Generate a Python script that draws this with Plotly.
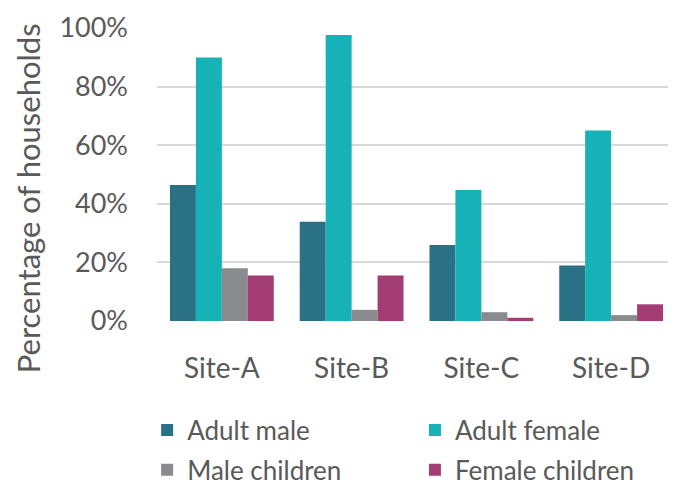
import plotly.graph_objects as go

sites = ["Site-A", "Site-B", "Site-C", "Site-D"]
adult_male = [0.464, 0.339, 0.259, 0.189]
adult_female = [0.899, 0.976, 0.447, 0.650]
male_children = [0.180, 0.038, 0.030, 0.020]
female_children = [0.155, 0.155, 0.011, 0.057]

# name, values, colour, legend id, legend x / y (paper)
series = [
    ("Adult male", adult_male, "#2B7186", "legend", -0.019, -0.372),
    ("Adult female", adult_female, "#16B2B8", "legend2", 0.497, -0.372),
    ("Male children", male_children, "#898B8E", "legend3", -0.019, -0.508),
    ("Female children", female_children, "#A33D73", "legend4", 0.497, -0.508),
]

font_family = "Lato, 'Open Sans', sans-serif"
text_color = "#595959"

fig = go.Figure()
legends = {}
for name, vals, color, leg, lx, ly in series:
    fig.add_trace(go.Bar(
        x=sites, y=vals, name=name, marker_color=color,
        marker_line_width=0, legend=leg,
    ))
    legends[leg] = dict(
        orientation="h",
        xanchor="left",
        yanchor="middle",
        x=lx,
        y=ly,
        font=dict(size=26, color=text_color, family=font_family),
        bgcolor="rgba(0,0,0,0)",
        itemclick=False,
    )

# page body adds an 8px offset, so the figure is 8px smaller than the window
fig.update_layout(
    width=668,
    height=477,
    margin=dict(l=149, r=0, t=20, b=164, autoexpand=False),
    paper_bgcolor="white",
    plot_bgcolor="white",
    barmode="group",
    bargap=0.2,
    bargroupgap=0,
    font=dict(family=font_family, color=text_color),
    showlegend=True,
    **legends,
)

fig.update_yaxes(
    range=[0, 1.0],
    tickvals=[0, 0.2, 0.4, 0.6, 0.8, 1.0],
    tickformat=".0%",
    showgrid=True,
    gridcolor="#D9D9D9",
    gridwidth=1.5,
    zeroline=False,
    showline=False,
    ticklabelstandoff=28,
    tickfont=dict(size=27, color=text_color),
)
fig.update_xaxes(
    showgrid=False,
    showline=False,
    ticks="",
    ticklabelstandoff=28,
    tickfont=dict(size=28, color=text_color),
)

fig.add_annotation(
    text="Percentage of households",
    xref="paper", yref="paper",
    x=-0.248, y=0.42,
    xanchor="center", yanchor="middle",
    textangle=-90,
    showarrow=False,
    font=dict(size=31, color=text_color, family=font_family),
)

fig.write_html("out.html")
